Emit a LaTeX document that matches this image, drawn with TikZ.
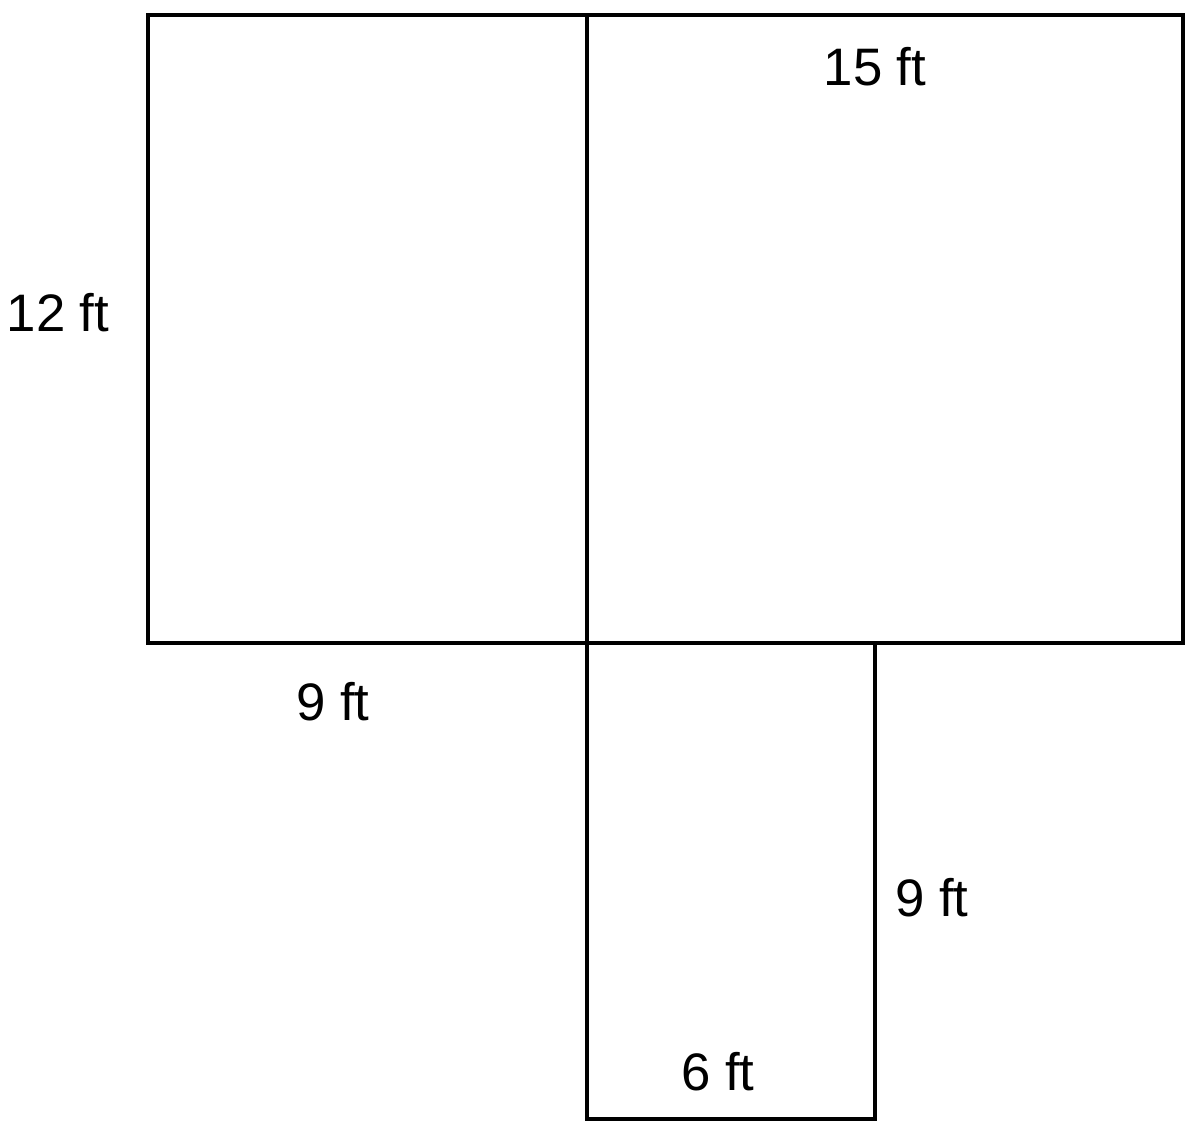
\documentclass[tikz,border=0pt]{standalone}
\usepackage{fontspec}
\setmainfont{Liberation Sans}
\usepackage{tikz}
\usetikzlibrary{positioning}

\begin{document}
\begin{tikzpicture}[x=0.01cm, y=-0.01cm, wall/.style={line width=0.95pt}, dim/.style={font=\fontsize{15}{18}\selectfont, inner sep=0pt}]

\useasboundingbox (0,0) rectangle (1200,1131);

%Rooms
\draw[wall] (148,15) rectangle (587,643);
\draw[wall] (587,15) rectangle (1183,643);
\draw[wall] (587,643) -- (587,1119) -- (875,1119) -- (875,641);

%Labels
\node[dim] (top) at (875,67) {15 ft};
\node[dim] (left) at (58,313) {12 ft};
\node[dim] (bottom) at (333,702) {9 ft};
\node[dim] (side) at (932,898) {9 ft};
\node[dim] (small) at (718,1072) {6 ft};

\end{tikzpicture}
\end{document}
